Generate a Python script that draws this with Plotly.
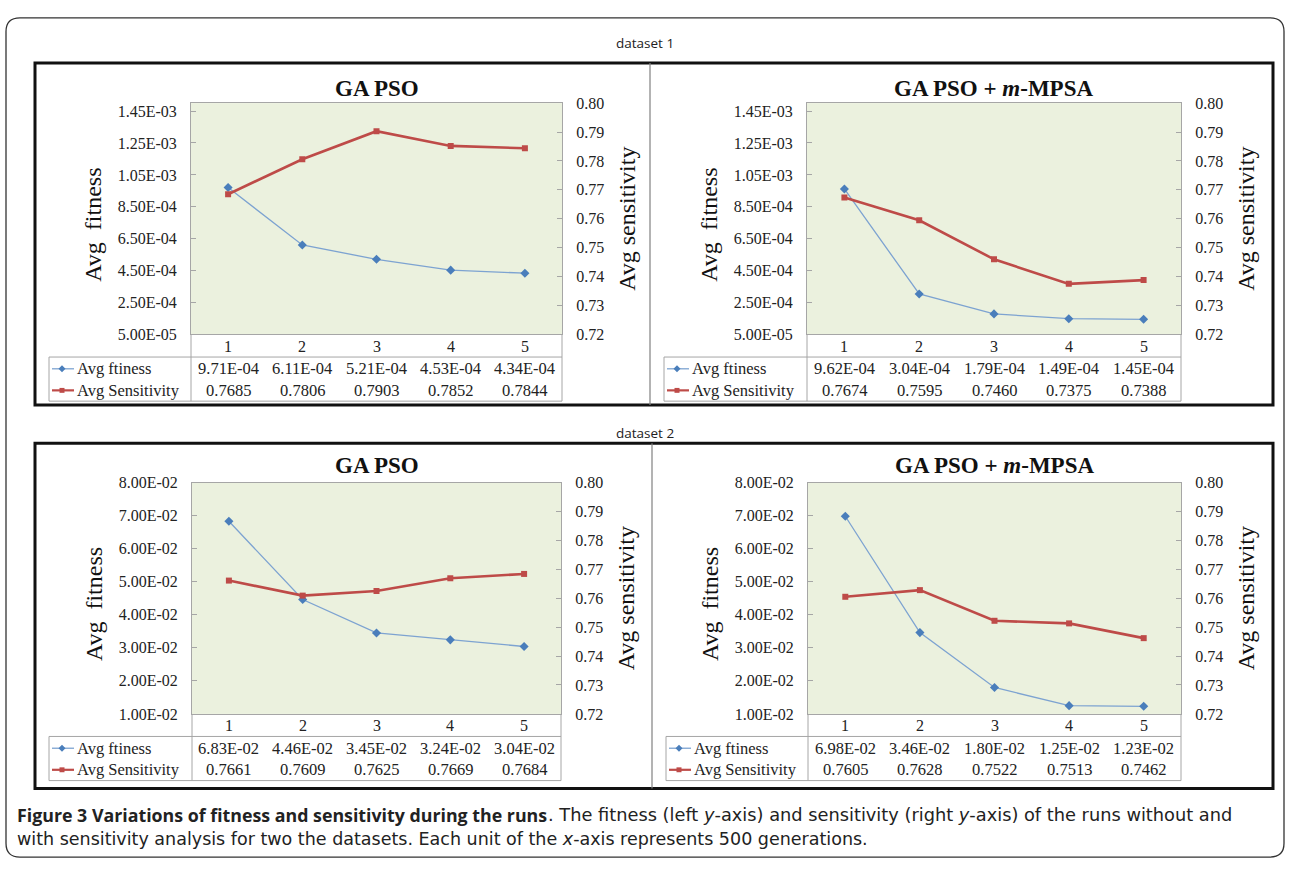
import plotly.graph_objects as go

# ---------------- data ----------------
runs = [1, 2, 3, 4, 5]

d1_gapso_fit = [9.71e-4, 6.11e-4, 5.21e-4, 4.53e-4, 4.34e-4]
d1_gapso_sens = [0.7685, 0.7806, 0.7903, 0.7852, 0.7844]
d1_mpsa_fit = [9.62e-4, 3.04e-4, 1.79e-4, 1.49e-4, 1.45e-4]
d1_mpsa_sens = [0.7674, 0.7595, 0.7460, 0.7375, 0.7388]
d2_gapso_fit = [6.83e-2, 4.46e-2, 3.45e-2, 3.24e-2, 3.04e-2]
d2_gapso_sens = [0.7661, 0.7609, 0.7625, 0.7669, 0.7684]
d2_mpsa_fit = [6.98e-2, 3.46e-2, 1.80e-2, 1.25e-2, 1.23e-2]
d2_mpsa_sens = [0.7605, 0.7628, 0.7522, 0.7513, 0.7462]

d1_fit_ticks = [5e-5, 2.5e-4, 4.5e-4, 6.5e-4, 8.5e-4, 1.05e-3, 1.25e-3, 1.45e-3]
d1_fit_range = [5e-5, 1.5e-3]
d2_fit_ticks = [0.01, 0.02, 0.03, 0.04, 0.05, 0.06, 0.07, 0.08]
d2_fit_range = [0.01, 0.08]
sens_ticks = [0.72, 0.73, 0.74, 0.75, 0.76, 0.77, 0.78, 0.79, 0.80]
sens_range = [0.72, 0.80]

titles = ["GA PSO", "GA PSO + <i>m</i>-MPSA", "GA PSO", "GA PSO + <i>m</i>-MPSA"]
row_labels = ["Avg ftiness", "Avg Sensitivity"]
group_labels = ["dataset 1", "dataset 2"]

# ---------------- layout geometry (page pixels) ----------------
W, H = 1290, 869
def px(x): return x / W
def py(y): return 1 - y / H

SERIF = "Liberation Serif, Times New Roman, serif"
SANS = "Open Sans, Noto Sans, sans-serif"
WIDE = "DejaVu Sans, Verdana, sans-serif"
GRAY = "#A6A6A6"
BLUE_LINE = "#7DA3D1"
BLUE_MK = "#4A7EBB"
RED = "#BE4B48"

panels = [
    dict(l=191, r=562, t=97, b=333, tl=49, fit=d1_gapso_fit, sens=d1_gapso_sens,
         ticks=d1_fit_ticks, rng=d1_fit_range, title_y=82),
    dict(l=807, r=1181, t=97, b=333, tl=664, fit=d1_mpsa_fit, sens=d1_mpsa_sens,
         ticks=d1_fit_ticks, rng=d1_fit_range, title_y=82),
    dict(l=192, r=561, t=484, b=720, tl=49, fit=d2_gapso_fit, sens=d2_gapso_sens,
         ticks=d2_fit_ticks, rng=d2_fit_range, title_y=467),
    dict(l=808, r=1181, t=484, b=720, tl=666, fit=d2_mpsa_fit, sens=d2_mpsa_sens,
         ticks=d2_fit_ticks, rng=d2_fit_range, title_y=467),
]

fig = go.Figure()
layout = {}
shapes = []
annotations = []

for i, p in enumerate(panels):
    n = i + 1
    xa = "xaxis" if n == 1 else f"xaxis{n}"
    xr = "x" if n == 1 else f"x{n}"
    yl_n, yr_n = 2 * n - 1, 2 * n
    yla = "yaxis" if yl_n == 1 else f"yaxis{yl_n}"
    ylr = "y" if yl_n == 1 else f"y{yl_n}"
    yra = f"yaxis{yr_n}"
    yrr = f"y{yr_n}"

    layout[xa] = dict(domain=[px(p["l"]), px(p["r"])], range=[0.5, 5.5], anchor=ylr,
                      showline=True, mirror=True, linecolor=GRAY, linewidth=1,
                      showgrid=False, zeroline=False, showticklabels=False, ticks="",
                      fixedrange=True)
    layout[yla] = dict(domain=[py(p["b"]), py(p["t"])], range=p["rng"], anchor=xr,
                       tickvals=p["ticks"], ticktext=[f"{v:.2E}" for v in p["ticks"]],
                       ticks="inside", ticklen=5, tickcolor=GRAY, showline=True,
                       linecolor=GRAY, linewidth=1, showgrid=False, zeroline=False,
                       tickfont=dict(family=SERIF, size=16, color="#222"),
                       ticklabelstandoff=10, fixedrange=True)
    layout[yra] = dict(range=sens_range, overlaying=ylr, side="right", anchor=xr,
                       tickvals=sens_ticks, ticktext=[f"{v:.2f}" for v in sens_ticks],
                       ticks="inside", ticklen=5, tickcolor=GRAY, showline=True,
                       linecolor=GRAY, linewidth=1, showgrid=False, zeroline=False,
                       tickfont=dict(family=SERIF, size=16, color="#222"),
                       ticklabelstandoff=10, fixedrange=True)

    fig.add_trace(go.Scatter(x=runs, y=p["fit"], xaxis=xr, yaxis=ylr, mode="lines+markers",
                             line=dict(color=BLUE_LINE, width=1.3),
                             marker=dict(symbol="diamond", size=7, color=BLUE_MK),
                             showlegend=False, hoverinfo="skip"))
    fig.add_trace(go.Scatter(x=runs, y=p["sens"], xaxis=xr, yaxis=yrr, mode="lines+markers",
                             line=dict(color=RED, width=2.6),
                             marker=dict(symbol="square", size=6, color=RED),
                             showlegend=False, hoverinfo="skip"))

    # panel title
    annotations.append(dict(x=px((p["l"] + p["r"]) / 2), y=py(p["title_y"]), xref="paper",
                            yref="paper", text=f"<b>{titles[i]}</b>", showarrow=False,
                            font=dict(family=SERIF, size=23, color="#111"),
                            xanchor="center", yanchor="middle"))
    # axis titles
    mid = (p["t"] + p["b"]) / 2
    annotations.append(dict(x=px(p["l"] - 98), y=py(mid + 6), xref="paper", yref="paper",
                            text="Avg  fitness", textangle=-90, showarrow=False,
                            font=dict(family=SERIF, size=24, color="#111"),
                            xanchor="center", yanchor="middle"))
    annotations.append(dict(x=px(p["r"] + 65), y=py(mid), xref="paper", yref="paper",
                            text="Avg sensitivity", textangle=-90, showarrow=False,
                            font=dict(family=SERIF, size=24, color="#111"),
                            xanchor="center", yanchor="middle"))

    # data table
    b = p["b"]
    tl = p["tl"]
    line = dict(color=GRAY, width=1)
    for (x0, y0, x1, y1) in [(p["l"], b, p["l"], b + 68), (p["r"], b, p["r"], b + 68),
                             (tl, b + 23, p["r"], b + 23), (tl, b + 68, p["r"], b + 68),
                             (tl, b + 23, tl, b + 68)]:
        shapes.append(dict(type="line", xref="paper", yref="paper", x0=px(x0), y0=py(y0),
                           x1=px(x1), y1=py(y1), line=line, layer="above"))
    for j, r in enumerate(runs):
        annotations.append(dict(x=r, y=py(b + 12), xref=xr, yref="paper", text=str(r),
                                showarrow=False, font=dict(family=SERIF, size=16, color="#222"),
                                xanchor="center", yanchor="middle"))
        annotations.append(dict(x=r, y=py(b + 35), xref=xr, yref="paper",
                                text=f"{p['fit'][j]:.2E}", showarrow=False,
                                font=dict(family=SERIF, size=16.5, color="#222"),
                                xanchor="center", yanchor="middle"))
        annotations.append(dict(x=r, y=py(b + 57), xref=xr, yref="paper",
                                text=f"{p['sens'][j]:.4f}", showarrow=False,
                                font=dict(family=SERIF, size=16.5, color="#222"),
                                xanchor="center", yanchor="middle"))
    # legend keys
    for k, (yy, col, lw) in enumerate([(b + 35, BLUE_LINE, 1.3), (b + 57, RED, 2.2)]):
        shapes.append(dict(type="line", xref="paper", yref="paper", x0=px(tl + 3), y0=py(yy),
                           x1=px(tl + 25), y1=py(yy), line=dict(color=col, width=lw)))
        cx = tl + 13
        if k == 0:
            s = 3.5
            path = (f"M {px(cx)} {py(yy - s)} L {px(cx + s)} {py(yy)} L {px(cx)} {py(yy + s)} "
                    f"L {px(cx - s)} {py(yy)} Z")
            shapes.append(dict(type="path", xref="paper", yref="paper", path=path,
                               fillcolor=BLUE_MK, line=dict(color=BLUE_MK, width=0)))
        else:
            s = 2.5
            shapes.append(dict(type="rect", xref="paper", yref="paper", x0=px(cx - s),
                               y0=py(yy - s), x1=px(cx + s), y1=py(yy + s),
                               fillcolor=RED, line=dict(color=RED, width=0)))
        annotations.append(dict(x=px(tl + 26), y=py(yy), xref="paper", yref="paper",
                                text=row_labels[k], showarrow=False,
                                font=dict(family=SERIF, size=16.5, color="#222"),
                                xanchor="left", yanchor="middle"))

# group boxes and dividers
for (gt, gb, dvx) in [(56, 405, 650), (444, 796, 652)]:
    shapes.append(dict(type="rect", xref="paper", yref="paper", x0=px(35), y0=py(gb),
                       x1=px(1273), y1=py(gt), line=dict(color="#111", width=3),
                       fillcolor="rgba(0,0,0,0)", layer="above"))
    shapes.append(dict(type="line", xref="paper", yref="paper", x0=px(dvx), y0=py(gb),
                       x1=px(dvx), y1=py(gt), line=dict(color="#808080", width=1.2),
                       layer="above"))

for txt, yy in zip(group_labels, [36, 433]):
    annotations.append(dict(x=px(645), y=py(yy), xref="paper", yref="paper", text=txt,
                            showarrow=False, font=dict(family=SANS, size=13.5, color="#222"),
                            xanchor="center", yanchor="middle"))

# outer rounded frame
x0, y0, x1, y1, rr = 6, 10, 1284, 866, 14
frame = (f"M {px(x0 + rr)} {py(y0)} L {px(x1 - rr)} {py(y0)} "
         f"Q {px(x1)} {py(y0)} {px(x1)} {py(y0 + rr)} "
         f"L {px(x1)} {py(y1 - rr)} Q {px(x1)} {py(y1)} {px(x1 - rr)} {py(y1)} "
         f"L {px(x0 + rr)} {py(y1)} Q {px(x0)} {py(y1)} {px(x0)} {py(y1 - rr)} "
         f"L {px(x0)} {py(y0 + rr)} Q {px(x0)} {py(y0)} {px(x0 + rr)} {py(y0)} Z")
shapes.append(dict(type="path", xref="paper", yref="paper", path=frame,
                   line=dict(color="#333", width=1.3), layer="above"))

# caption
cap_bold = "Figure 3 Variations of fitness and sensitivity during the runs"
cap1_rest = ("The fitness (left <i>y</i>-axis) and sensitivity (right <i>y</i>-axis) "
             "of the runs without and")
cap2 = ("with sensitivity analysis for two the datasets. Each unit of the <i>x</i>-axis "
        "represents 500 generations.")
annotations.append(dict(x=px(15), y=py(823), xref="paper", yref="paper",
                        text=f"<b>{cap_bold}</b>", showarrow=False,
                        font=dict(family=SANS, size=17.8, color="#222"),
                        xanchor="left", yanchor="middle"))
annotations.append(dict(x=px(546), y=py(823), xref="paper", yref="paper",
                        text=". " + cap1_rest, showarrow=False,
                        font=dict(family=WIDE, size=17.8, color="#222"),
                        xanchor="left", yanchor="middle"))
annotations.append(dict(x=px(15), y=py(848), xref="paper", yref="paper", text=cap2,
                        showarrow=False, font=dict(family=WIDE, size=17.5, color="#222"),
                        xanchor="left", yanchor="middle"))

fig.update_layout(width=W, height=H, margin=dict(l=0, r=0, t=0, b=0),
                  paper_bgcolor="white", plot_bgcolor="#EBF1DE",
                  shapes=shapes, annotations=annotations, showlegend=False, **layout)

fig.write_html("out.html", config={"displayModeBar": False},
               post_script="document.body.style.margin='0px';"
                           "document.body.style.overflow='hidden';")
